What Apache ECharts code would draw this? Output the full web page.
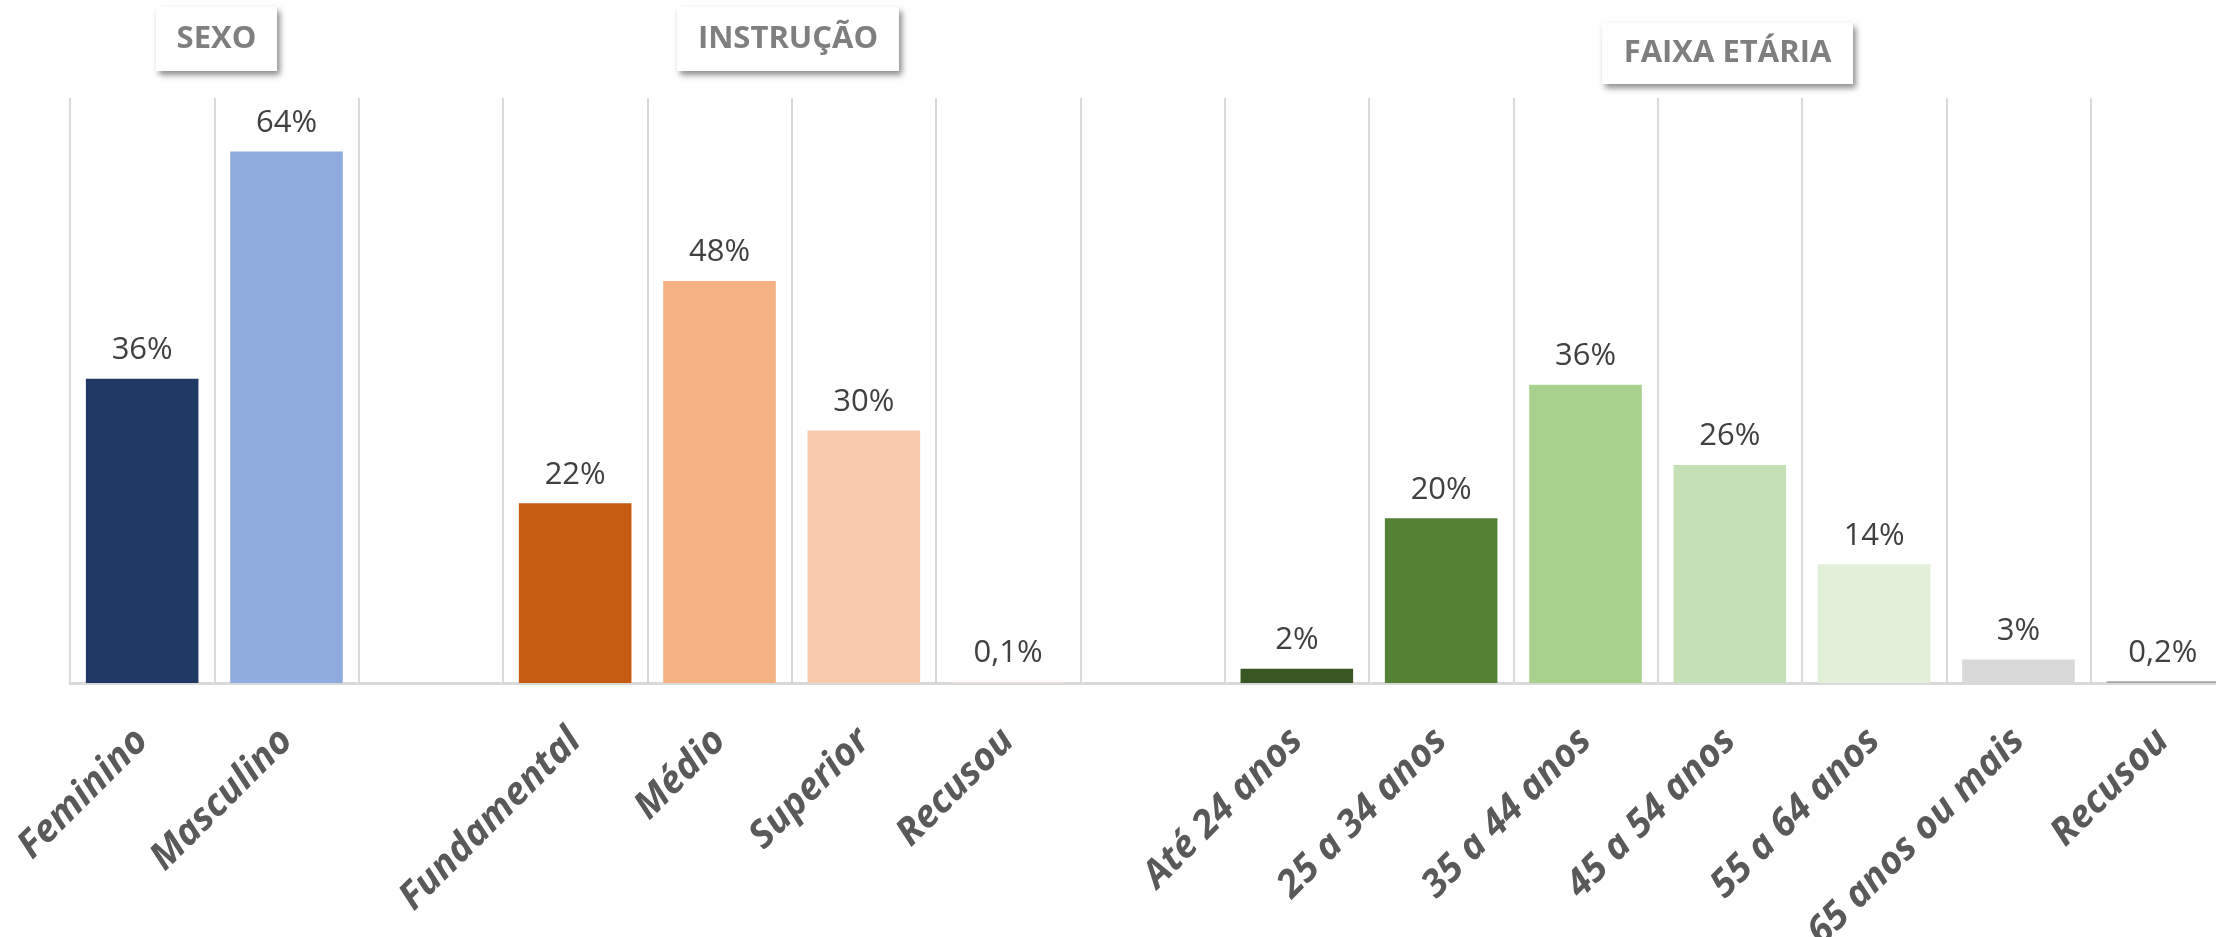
<!DOCTYPE html>
<html>
<head>
<meta charset="utf-8">
<script src="https://cdn.jsdelivr.net/npm/echarts@6/dist/echarts.min.js"></script>
<style>
  html, body { margin: 0; padding: 0; background: #fff; }
  #chart { width: 2216px; height: 937px; }
</style>
</head>
<body>
<div id="chart"></div>
<script>
// categorias (as vazias separam os grupos)
var categories = ['Feminino', 'Masculino', '',
    'Fundamental', 'Médio', 'Superior', 'Recusou', '',
    'Até 24 anos', '25 a 34 anos', '35 a 44 anos', '45 a 54 anos', '55 a 64 anos', '65 anos ou mais', 'Recusou'];
var values = [36.4, 63.6, null,
    21.5, 48.1, 30.2, 0.1, null,
    1.7, 19.7, 35.7, 26.1, 14.2, 2.8, 0.2];
var barColors = ['#203864', '#8FAADC', '#ffffff',
    '#C55A11', '#F4B183', '#F8CBAD', '#FBE5D6', '#ffffff',
    '#385723', '#548235', '#A9D18E', '#C5E0B4', '#E2F0D9', '#D9D9D9', '#A5A5A5'];
var groupTitles = ['SEXO', 'INSTRUÇÃO', 'FAIXA ETÁRIA'];

function pct(v) {
    if (v == null) return '';
    if (v < 1) return v.toFixed(1).replace('.', ',') + '%';
    return Math.round(v) + '%';
}

// caixinhas dos titulos de grupo
function titleBox(text, x, y, w, h) {
    return {
        type: 'group',
        left: x, top: y,
        children: [{
            type: 'rect',
            shape: { x: 0, y: 0, width: w, height: h },
            style: { fill: '#fff', shadowBlur: 6, shadowOffsetX: 3, shadowOffsetY: 4, shadowColor: 'rgba(0,0,0,0.45)' }
        }, {
            type: 'text',
            x: w / 2, y: h / 2,
            style: {
                text: text, fill: '#7F7F7F', align: 'center', verticalAlign: 'middle',
                font: 'bold 31px "Open Sans"'
            }
        }]
    };
}

var chart = echarts.init(document.getElementById('chart'));
chart.setOption({
    backgroundColor: '#fff',
    animation: false,
    // a ultima categoria fica cortada na borda direita, como no original
    grid: { left: 70, right: -19, top: 98, bottom: 254, outerBoundsMode: 'none', containLabel: false },
    xAxis: {
        type: 'category',
        data: categories,
        axisLine: { lineStyle: { color: '#D9D9D9', width: 3 } },
        axisTick: { show: false },
        splitLine: { show: true, lineStyle: { color: '#D9D9D9', width: 2 } },
        axisLabel: {
            interval: 0, rotate: 45, margin: 52,
            color: '#595959', fontFamily: 'Open Sans', fontSize: 38,
            fontWeight: 'bold', fontStyle: 'italic'
        }
    },
    yAxis: {
        type: 'value', min: 0, max: 70,
        show: false,
        splitLine: { show: false }
    },
    graphic: [
        titleBox(groupTitles[0], 156, 7, 121, 64),
        titleBox(groupTitles[1], 677, 7, 222, 64),
        titleBox(groupTitles[2], 1602, 23, 251, 61)
    ],
    series: [{
        type: 'bar',
        barCategoryGap: '22%',
        data: values.map(function (v, i) {
            return { value: v, itemStyle: { color: barColors[i] } };
        }),
        label: {
            show: true, position: 'top', distance: 13,
            color: '#404040', fontFamily: 'Open Sans', fontSize: 31,
            formatter: function (p) { return pct(p.value); }
        }
    }]
});
</script>
</body>
</html>
